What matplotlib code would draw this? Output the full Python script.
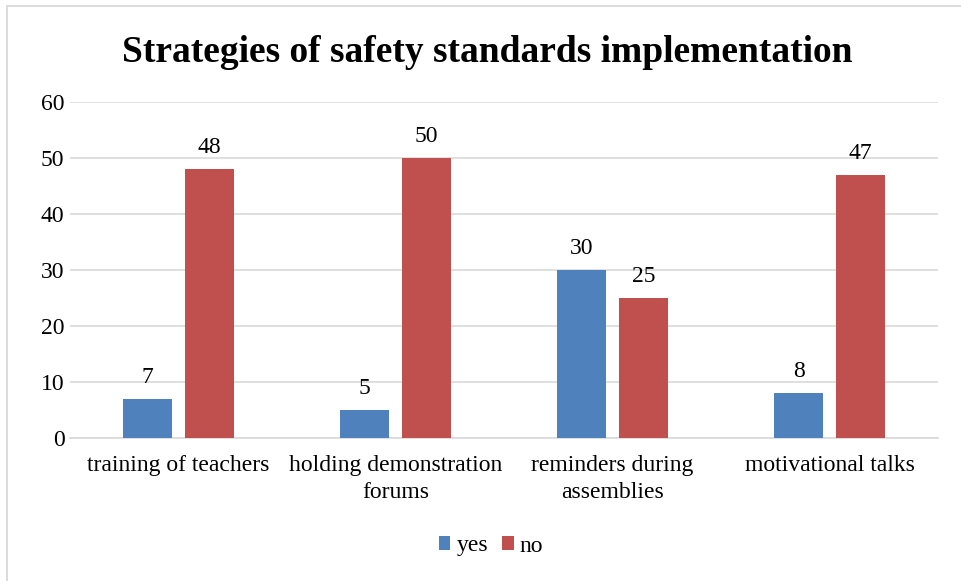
import matplotlib
matplotlib.use("Agg")
import matplotlib.pyplot as plt
import numpy as np
from matplotlib.patches import Rectangle

categories = ["training of teachers", "holding demonstration\nforums",
              "reminders during\nassemblies", "motivational talks"]
yes_vals = [7, 5, 30, 8]
no_vals = [48, 50, 25, 47]
yticks = [0, 10, 20, 30, 40, 50, 60]

plt.rcParams['font.family'] = ['Liberation Serif', 'DejaVu Serif']

W, H = 961, 581
fig = plt.figure(figsize=(W/100, H/100), dpi=100)
ax = fig.add_axes([70/W, 1-438/H, (938-70)/W, (438-102)/H])

x = np.arange(len(categories))
bw = 0.225
off = 0.1425
blue = "#4F81BD"
red = "#C0504D"
b1 = ax.bar(x - off, yes_vals, bw, color=blue, label="yes", zorder=3)
b2 = ax.bar(x + off, no_vals, bw, color=red, label="no", zorder=3)
for bars in (b1, b2):
    for r in bars:
        ax.annotate(f"{r.get_height():g}", (r.get_x() + r.get_width()/2, r.get_height()),
                    xytext=(0, 8), textcoords="offset points", ha="center", va="bottom",
                    fontsize=17)

ax.set_xlim(-0.5, 3.5)
ax.set_ylim(0, 60)
ax.set_yticks(yticks)
ax.set_yticklabels([str(t) for t in yticks], fontsize=17)
ax.set_xticks(x)
ax.set_xticklabels(categories, fontsize=17, linespacing=1.4)
ax.tick_params(axis='both', length=0)
ax.tick_params(axis='y', pad=4)
ax.tick_params(axis='x', pad=12)
ax.grid(axis='y', color="#d9d9d9", linewidth=1.2, zorder=0)
for s in ['top', 'right', 'left']:
    ax.spines[s].set_visible(False)
ax.spines['bottom'].set_color("#d9d9d9")
ax.spines['bottom'].set_linewidth(1.2)

fig.text(487/W, 1-52/H, "Strategies of safety standards implementation",
         ha="center", va="center", fontsize=27, fontweight="bold")

leg = fig.legend(handles=[b1, b2], loc="center", bbox_to_anchor=(491/W, 1-546/H),
                 ncol=2, frameon=False, fontsize=17, handlelength=0.5, handleheight=0.5,
                 handletextpad=0.25, columnspacing=0.6)

fig.patches.append(Rectangle((7/W, -0.1), 1.2, 1-6/H + 0.1, transform=fig.transFigure,
                             fill=False, edgecolor="#d9d9d9", linewidth=1.3))

fig.savefig("out.png", dpi=100)
